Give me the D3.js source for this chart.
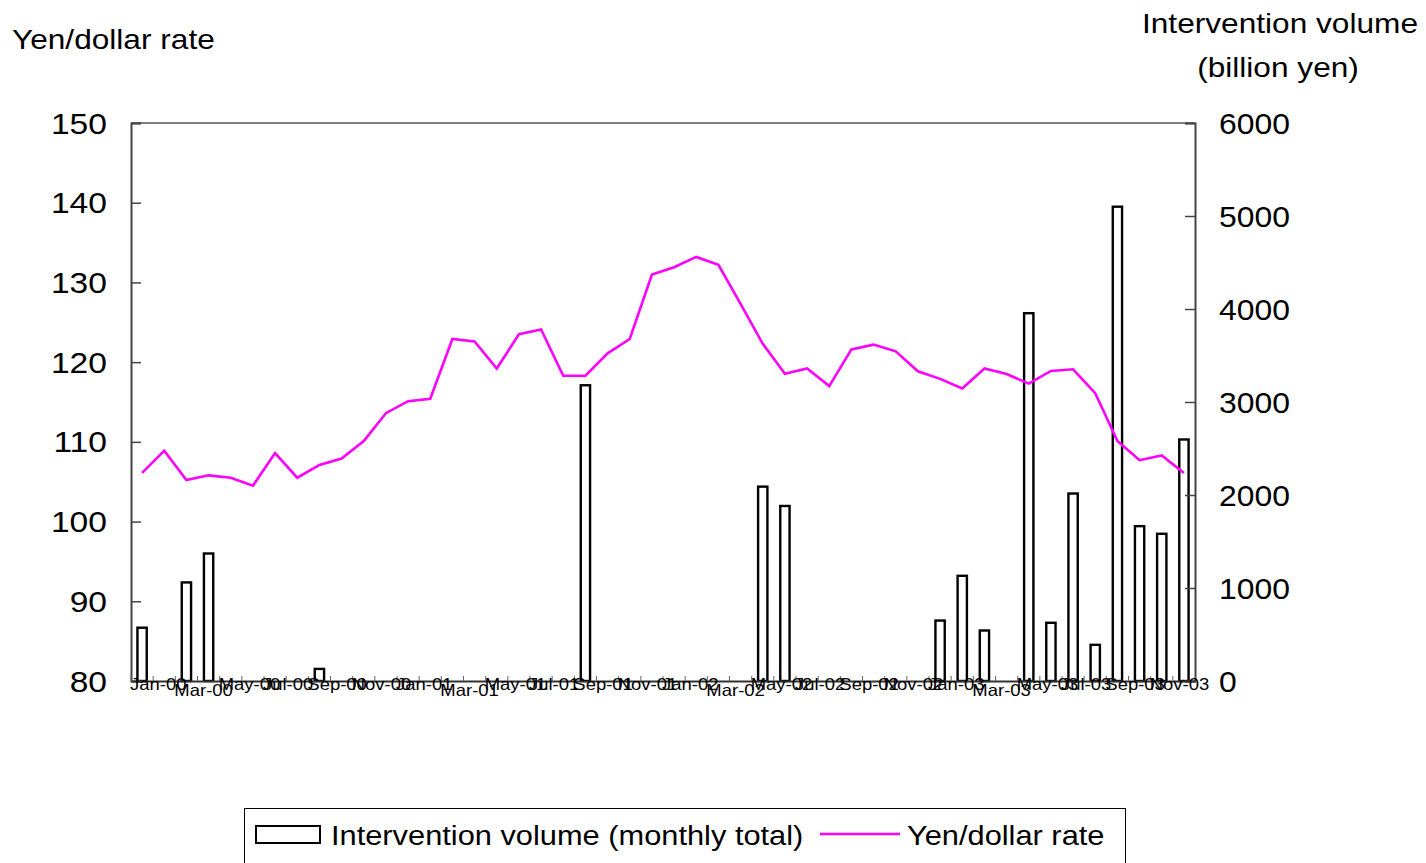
<!DOCTYPE html>
<html>
<head>
<meta charset="utf-8">
<script src="https://cdn.jsdelivr.net/npm/d3@7"></script>
<style>
  html, body { margin: 0; padding: 0; background: #fff; }
  svg { display: block; font-family: Arial, "Liberation Sans", sans-serif; }
</style>
</head>
<body>
<svg id="chart" width="1426" height="863"></svg>
<script>
// ---- data ----
const months = [
  "Jan-00","Feb-00","Mar-00","Apr-00","May-00","Jun-00","Jul-00","Aug-00","Sep-00","Oct-00","Nov-00","Dec-00",
  "Jan-01","Feb-01","Mar-01","Apr-01","May-01","Jun-01","Jul-01","Aug-01","Sep-01","Oct-01","Nov-01","Dec-01",
  "Jan-02","Feb-02","Mar-02","Apr-02","May-02","Jun-02","Jul-02","Aug-02","Sep-02","Oct-02","Nov-02","Dec-02",
  "Jan-03","Feb-03","Mar-03","Apr-03","May-03","Jun-03","Jul-03","Aug-03","Sep-03","Oct-03","Nov-03","Dec-03"
];
const yenRate = [
  106.1,108.9,105.2,105.8,105.5,104.5,108.6,105.5,107.1,107.9,110.1,113.6,
  115.1,115.4,122.9,122.6,119.2,123.5,124.1,118.3,118.3,121.1,122.9,131.0,
  131.9,133.2,132.2,127.3,122.3,118.55,119.2,117.0,121.6,122.2,121.35,118.85,
  117.9,116.7,119.2,118.5,117.3,118.9,119.1,116.1,110.1,107.7,108.3,106.1
];
const intervention = [
  573,0,1060,1371,0,0,0,0,130,0,0,0,
  0,0,0,0,0,0,0,0,3180,0,0,0,
  0,0,0,0,2090,1882,0,0,0,0,0,0,
  650,1131,543,0,3955,626,2016,389,5100,1665,1583,2597
];
const xTickLabels = ["Jan-00","Mar-00","May-00","Jul-00","Sep-00","Nov-00",
  "Jan-01","Mar-01","May-01","Jul-01","Sep-01","Nov-01",
  "Jan-02","Mar-02","May-02","Jul-02","Sep-02","Nov-02",
  "Jan-03","Mar-03","May-03","Jul-03","Sep-03","Nov-03"];
const leftTicks = [80, 90, 100, 110, 120, 130, 140, 150];
const rightTicks = [0, 1000, 2000, 3000, 4000, 5000, 6000];
const leftTitle = "Yen/dollar rate";
const rightTitle1 = "Intervention volume";
const rightTitle2 = "(billion yen)";
const legendBar = "Intervention volume (monthly total)";
const legendLine = "Yen/dollar rate";

// ---- layout ----
const svg = d3.select("#chart");
const L = 131, R = 1195, T = 123, B = 681;

const x = d3.scaleBand().domain(months).range([L, R]).padding(0);
const yL = d3.scaleLinear().domain([80, 150]).range([B, T]);
const yR = d3.scaleLinear().domain([0, 6000]).range([B, T]);

function stext(g, px, py, txt, size, anchor, sx) {
  return g.append("text")
    .attr("transform", `translate(${px},${py}) scale(${sx || 1.13},1)`)
    .attr("text-anchor", anchor || "start")
    .attr("font-size", size)
    .attr("fill", "#000")
    .text(txt);
}

// plot frame top line
svg.append("line").attr("x1", L).attr("x2", R).attr("y1", T).attr("y2", T)
  .attr("stroke", "#555").attr("stroke-width", 1.5);

// bars
const bw = x.bandwidth() * 0.42;
svg.append("g").selectAll("rect")
  .data(months.map((m, i) => ({ m, v: intervention[i] })).filter(d => d.v > 0))
  .join("rect")
  .attr("x", d => x(d.m) + x.bandwidth() / 2 - bw / 2)
  .attr("y", d => yR(d.v))
  .attr("width", bw)
  .attr("height", d => yR(0) - yR(d.v))
  .attr("fill", "#fff")
  .attr("stroke", "#000")
  .attr("stroke-width", 2.4);

// line
const line = d3.line()
  .x((d, i) => x(months[i]) + x.bandwidth() / 2)
  .y(d => yL(d));
svg.append("path").datum(yenRate)
  .attr("d", line)
  .attr("fill", "none")
  .attr("stroke", "#ff00ff")
  .attr("stroke-width", 2.6)
  .attr("stroke-linejoin", "miter");

// left axis
const gL = svg.append("g").attr("transform", `translate(${L},0)`)
  .call(d3.axisLeft(yL).tickValues(leftTicks).tickSize(-10).tickFormat(""));
gL.select(".domain").attr("stroke", "#444").attr("stroke-width", 2);
gL.selectAll(".tick line").attr("stroke", "#444").attr("stroke-width", 1.5);
leftTicks.forEach(t => stext(svg, 107, yL(t) + 10.5, String(t), 30, "end", 1.12));

// right axis
const gR = svg.append("g").attr("transform", `translate(${R},0)`)
  .call(d3.axisRight(yR).tickValues(rightTicks).tickSize(-10).tickFormat(""));
gR.select(".domain").attr("stroke", "#444").attr("stroke-width", 2);
gR.selectAll(".tick line").attr("stroke", "#444").attr("stroke-width", 1.5);
rightTicks.forEach(t => stext(svg, 1219, yR(t) + 10.5, String(t), 29, "start", 1.1));

// bottom axis
const gB = svg.append("g").attr("transform", `translate(0,${B})`)
  .call(d3.axisBottom(x).tickValues([]).tickSizeOuter(0));
gB.select(".domain").attr("stroke", "#333").attr("stroke-width", 2);
months.forEach(m => {
  svg.append("line").attr("x1", x(m)).attr("x2", x(m)).attr("y1", B).attr("y2", B - 5)
    .attr("stroke", "#666").attr("stroke-width", 1);
});
xTickLabels.forEach(lab => {
  const low = lab.startsWith("Mar");
  stext(svg, x(lab) - 1, B + (low ? 15 : 9), lab, 16.5, "start", 1.12);
});

// titles
stext(svg, 12, 49, leftTitle, 28, "start");
stext(svg, 1142, 33, rightTitle1, 28, "start");
stext(svg, 1278, 77, rightTitle2, 28, "middle");

// legend
const lg = svg.append("g");
lg.append("rect").attr("x", 244.5).attr("y", 808.5).attr("width", 881).attr("height", 60)
  .attr("fill", "#fff").attr("stroke", "#000").attr("stroke-width", 1);
lg.append("rect").attr("x", 256).attr("y", 826).attr("width", 64).attr("height", 17)
  .attr("fill", "#fff").attr("stroke", "#000").attr("stroke-width", 2);
stext(lg, 331, 845, legendBar, 27.5, "start", 1.12);
lg.append("line").attr("x1", 820).attr("x2", 900).attr("y1", 834).attr("y2", 834)
  .attr("stroke", "#ff00ff").attr("stroke-width", 2.6);
stext(lg, 907, 845, legendLine, 27.5, "start", 1.12);
</script>
</body>
</html>
